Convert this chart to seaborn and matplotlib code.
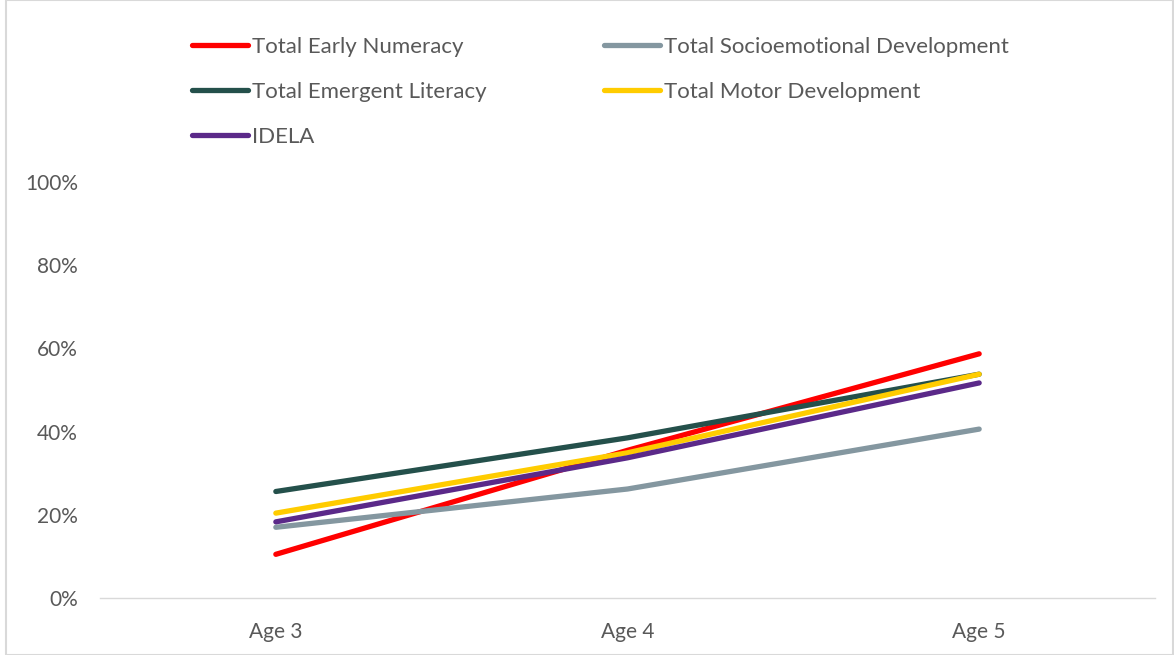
import pandas as pd
import matplotlib
matplotlib.use('Agg')
import matplotlib.pyplot as plt
import seaborn as sns
from matplotlib.patches import Rectangle
from matplotlib.ticker import PercentFormatter

# data
ages = ['Age 3', 'Age 4', 'Age 5']
numeracy = [0.105, 0.355, 0.587]
socioemotional = [0.170, 0.262, 0.406]
literacy = [0.256, 0.385, 0.538]
motor = [0.204, 0.349, 0.538]
idela = [0.183, 0.337, 0.517]

series = ['Total Early Numeracy', 'Total Socioemotional Development',
          'Total Emergent Literacy', 'Total Motor Development', 'IDELA']
colors = ['#FF0000', '#8497A0', '#24504B', '#FFCC00', '#5B2989']

df = pd.DataFrame({
    'age': ages * 5,
    'value': numeracy + socioemotional + literacy + motor + idela,
    'series': [s for s in series for _ in ages],
})

sns.set_theme(style='white')
plt.rcParams['font.family'] = ['Lato', 'DejaVu Sans']

fig = plt.figure(figsize=(11.74, 6.55), dpi=100)
ax = fig.add_axes([100/1174, 1-598/655, 1055/1174, (598-182)/655])

sns.lineplot(data=df, x='age', y='value', hue='series', hue_order=series,
             palette=colors, linewidth=3.8, ax=ax, sort=False)
for ln in ax.lines:
    ln.set_solid_capstyle('round')

ax.set_xlim(-0.5, 2.5)
ax.set_ylim(0, 1)
ax.set_yticks([0, 0.2, 0.4, 0.6, 0.8, 1.0])
ax.yaxis.set_major_formatter(PercentFormatter(1.0, decimals=0))
ax.set_xlabel('')
ax.set_ylabel('')
ax.tick_params(axis='both', length=0, labelsize=15, labelcolor='#595959')
ax.tick_params(axis='y', pad=16)
ax.tick_params(axis='x', pad=17)
for side in ['top', 'right', 'left']:
    ax.spines[side].set_visible(False)
ax.spines['bottom'].set_color('#D9D9D9')
ax.spines['bottom'].set_linewidth(1)

# legend, two columns filled row-wise like the original
handles, labels = ax.get_legend_handles_labels()
order = [0, 2, 4, 1, 3]
ax.get_legend().remove()
leg = fig.legend([handles[i] for i in order], [labels[i] for i in order],
                 ncol=2, loc='upper left', bbox_to_anchor=(192/1174, 1-37/655),
                 frameon=False, fontsize=16, handlelength=2.5, handletextpad=0.2,
                 columnspacing=5.3, labelspacing=1.12, borderpad=0, borderaxespad=0)
for t in leg.get_texts():
    t.set_color('#595959')
for h in leg.get_lines():
    h.set_linewidth(3.8)
    h.set_solid_capstyle('round')

# light frame around the chart area
fig.patches.append(Rectangle((6/1174, 0), 1-7/1174, 1, transform=fig.transFigure,
                             fill=False, edgecolor='#D9D9D9', linewidth=1.5))

fig.savefig('out.png', dpi=100)
